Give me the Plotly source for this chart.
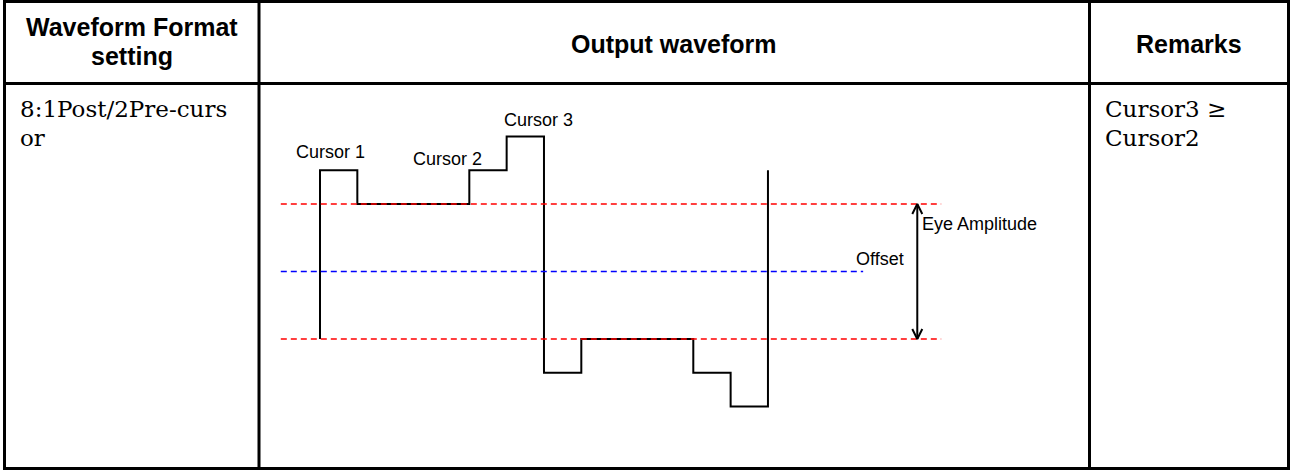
import plotly.graph_objects as go

W, H = 1290, 470

# ---------------- data ----------------
headers = ["Waveform Format<br>setting", "Output waveform", "Remarks"]
format_setting = ["8:1Post/2Pre-curs", "or"]
remarks = ["Cursor3 \u2265", "Cursor2"]

# waveform: bit boundaries (in unit intervals) and level of each bit
bit_times = list(range(0, 13))
start_level = -1.0
bit_levels = [1.5, 1, 1, 1, 1.5, 2, -1.5, -1, -1, -1, -1.5, -2]
end_level = 1.5

eye_levels = [1, -1]
offset_level = 0
guide_start = -1.05
eye_guide_end = 16.64
offset_guide_end = 14.55
arrow_t = 16.0

cursor_labels = ["Cursor 1", "Cursor 2", "Cursor 3"]
cursor_label_t = [0.28, 3.41, 5.86]
cursor_label_level = [1.77, 1.67, 2.25]

eye_label = "Eye Amplitude"
eye_label_t = 16.07
eye_label_level = 0.70
offset_label = "Offset"
offset_label_t = 15.0
offset_label_level = 0.19

# ---------------- layout constants (pixels) ----------------
T0_PX, UNIT_PX = 320.0, 37.33
L0_PX, LEVEL_PX = 271.5, 67.5
col_edges = [4.5, 259, 1089.5, 1288.5]
row_edges = [1.5, 83.5, 468.5]

SANS = "Liberation Sans, Arial, sans-serif"
SERIF = "DejaVu Serif, serif"


def px(x):
    return x / W


def py(y):
    return 1 - y / H


fig = go.Figure()

# waveform
wx = [bit_times[0]] + bit_times[:-1] + [bit_times[-1]]
wy = [start_level] + bit_levels + [end_level]
fig.add_trace(go.Scatter(x=wx, y=wy, mode="lines", line=dict(color="black", width=2, shape="hv"),
                         hoverinfo="skip", showlegend=False))

# eye amplitude guides (red) and offset guide (blue)
for lv in eye_levels:
    fig.add_trace(go.Scatter(x=[guide_start, eye_guide_end], y=[lv, lv], mode="lines",
                             line=dict(color="#ff0000", width=1.4, dash="6px,4px"),
                             hoverinfo="skip", showlegend=False))
fig.add_trace(go.Scatter(x=[guide_start, offset_guide_end], y=[offset_level, offset_level], mode="lines",
                         line=dict(color="#0000ff", width=1.4, dash="6px,4px"),
                         hoverinfo="skip", showlegend=False))

# double-headed arrow for eye amplitude
hw = 5 / UNIT_PX
hl = 10 / LEVEL_PX
top, bot = max(eye_levels), min(eye_levels)
ax_ = [arrow_t, arrow_t, None,
       arrow_t - hw, arrow_t, arrow_t + hw, None,
       arrow_t - hw, arrow_t, arrow_t + hw]
ay_ = [top, bot, None,
       top - hl, top, top - hl, None,
       bot + hl, bot, bot + hl]
fig.add_trace(go.Scatter(x=ax_, y=ay_, mode="lines", line=dict(color="black", width=2),
                         hoverinfo="skip", showlegend=False))

annotations = []
for lab, t, lv in zip(cursor_labels, cursor_label_t, cursor_label_level):
    annotations.append(dict(x=t, y=lv, xref="x", yref="y", text=lab, showarrow=False,
                            xanchor="center", yanchor="middle",
                            font=dict(family=SANS, size=18, color="black")))
annotations.append(dict(x=eye_label_t, y=eye_label_level, xref="x", yref="y", text=eye_label,
                        showarrow=False, xanchor="left", yanchor="middle",
                        font=dict(family=SANS, size=18, color="black")))
annotations.append(dict(x=offset_label_t, y=offset_label_level, xref="x", yref="y", text=offset_label,
                        showarrow=False, xanchor="center", yanchor="middle",
                        font=dict(family=SANS, size=18, color="black")))

# table headers
HFS = 25
for i, htxt in enumerate(headers):
    cx = (col_edges[i] + col_edges[i + 1]) / 2
    lines = htxt.split("<br>")
    if len(lines) == 1:
        ys = [44]
    else:
        ys = [26.5, 55.5]
    for ln, yy in zip(lines, ys):
        annotations.append(dict(x=px(cx), y=py(yy), xref="paper", yref="paper", text=ln,
                                showarrow=False, xanchor="center", yanchor="middle",
                                font=dict(family=SANS, size=HFS, color="black", weight="bold")))

# body cells
BFS = 23
body_y = [109, 138]
for ln, yy in zip(format_setting, body_y):
    annotations.append(dict(x=px(18), y=py(yy), xref="paper", yref="paper", text=ln,
                            showarrow=False, xanchor="left", yanchor="middle",
                            font=dict(family=SERIF, size=BFS, color="black")))
for ln, yy in zip(remarks, body_y):
    annotations.append(dict(x=px(1103), y=py(yy), xref="paper", yref="paper", text=ln,
                            showarrow=False, xanchor="left", yanchor="middle",
                            font=dict(family=SERIF, size=BFS, color="black")))

# table borders
shapes = []
for xe in col_edges:
    shapes.append(dict(type="line", xref="paper", yref="paper", x0=px(xe), x1=px(xe),
                       y0=py(row_edges[0] - 1.5), y1=py(row_edges[-1] + 1.5),
                       line=dict(color="black", width=3)))
for ye in row_edges:
    shapes.append(dict(type="line", xref="paper", yref="paper", x0=px(col_edges[0] - 1.5),
                       x1=px(col_edges[-1] + 1.5), y0=py(ye), y1=py(ye),
                       line=dict(color="black", width=3)))

fig.update_layout(
    width=W, height=H,
    margin=dict(l=0, r=0, t=0, b=0),
    paper_bgcolor="white", plot_bgcolor="white",
    xaxis=dict(range=[-T0_PX / UNIT_PX, (W - T0_PX) / UNIT_PX], domain=[0, 1], visible=False,
               fixedrange=True),
    yaxis=dict(range=[(L0_PX - H) / LEVEL_PX, L0_PX / LEVEL_PX], domain=[0, 1], visible=False,
               fixedrange=True),
    annotations=annotations,
    shapes=shapes,
    showlegend=False,
)

fig.write_html(
    "out.html",
    config={"displayModeBar": False, "staticPlot": True},
    post_script="document.body.style.margin='0';document.body.style.padding='0';"
                "document.documentElement.style.overflow='hidden';",
)
